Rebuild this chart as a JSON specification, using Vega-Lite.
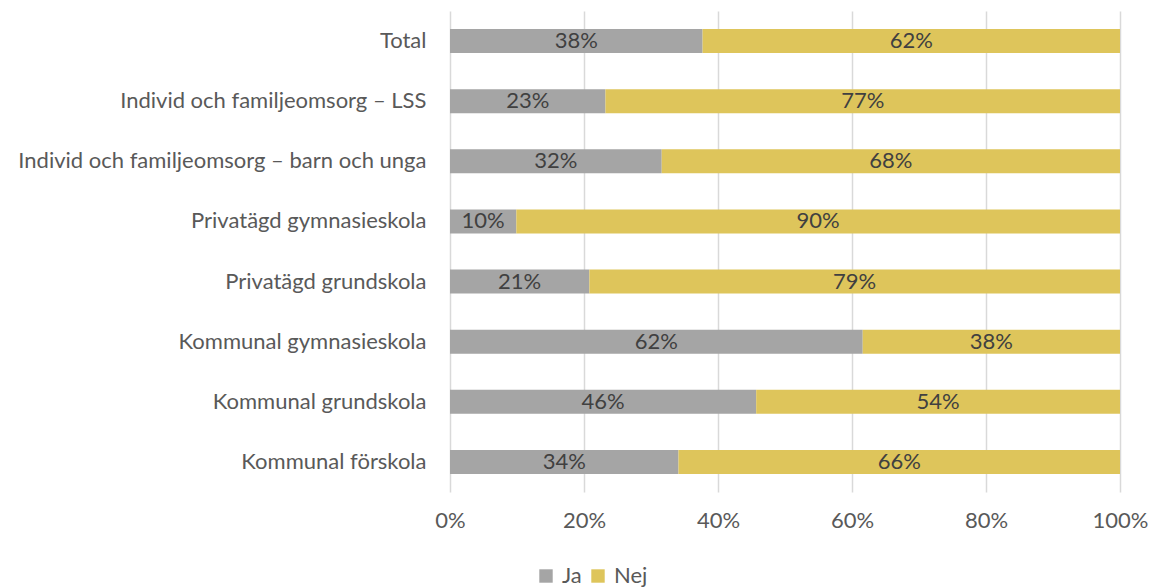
{
  "$schema": "https://vega.github.io/schema/vega-lite/v6.json",
  "width": 670,
  "height": 481,
  "autosize": "none",
  "padding": {"left": 450, "top": 11, "right": 31, "bottom": 96},
  "background": "white",
  "config": {"font": "Lato", "view": {"stroke": null}},
  "data": {
    "values": [
      {"kat": "Total", "svar": "Ja", "andel": 0.377, "ord": 0},
      {"kat": "Total", "svar": "Nej", "andel": 0.623, "ord": 1},
      {"kat": "Individ och familjeomsorg – LSS", "svar": "Ja", "andel": 0.232, "ord": 0},
      {"kat": "Individ och familjeomsorg – LSS", "svar": "Nej", "andel": 0.768, "ord": 1},
      {"kat": "Individ och familjeomsorg – barn och unga", "svar": "Ja", "andel": 0.316, "ord": 0},
      {"kat": "Individ och familjeomsorg – barn och unga", "svar": "Nej", "andel": 0.684, "ord": 1},
      {"kat": "Privatägd gymnasieskola", "svar": "Ja", "andel": 0.099, "ord": 0},
      {"kat": "Privatägd gymnasieskola", "svar": "Nej", "andel": 0.901, "ord": 1},
      {"kat": "Privatägd grundskola", "svar": "Ja", "andel": 0.208, "ord": 0},
      {"kat": "Privatägd grundskola", "svar": "Nej", "andel": 0.792, "ord": 1},
      {"kat": "Kommunal gymnasieskola", "svar": "Ja", "andel": 0.616, "ord": 0},
      {"kat": "Kommunal gymnasieskola", "svar": "Nej", "andel": 0.384, "ord": 1},
      {"kat": "Kommunal grundskola", "svar": "Ja", "andel": 0.457, "ord": 0},
      {"kat": "Kommunal grundskola", "svar": "Nej", "andel": 0.543, "ord": 1},
      {"kat": "Kommunal förskola", "svar": "Ja", "andel": 0.341, "ord": 0},
      {"kat": "Kommunal förskola", "svar": "Nej", "andel": 0.659, "ord": 1}
    ]
  },
  "transform": [
    {"stack": "andel", "groupby": ["kat"], "sort": [{"field": "ord"}], "as": ["v0", "v1"]},
    {"calculate": "(datum.v0 + datum.v1) / 2", "as": "mid"}
  ],
  "encoding": {
    "y": {
      "field": "kat",
      "type": "nominal",
      "sort": null,
      "scale": {"paddingInner": 0.6, "paddingOuter": 0.3},
      "axis": {
        "title": null,
        "domain": false,
        "ticks": false,
        "grid": false,
        "labelPadding": 24,
        "labelFontSize": 22,
        "labelColor": "#595959",
        "labelLimit": 500
      }
    }
  },
  "layer": [
    {
      "mark": {"type": "bar"},
      "encoding": {
        "x": {
          "field": "v0",
          "type": "quantitative",
          "scale": {"domain": [0, 1]},
          "axis": {
            "title": null,
            "format": ".0%",
            "values": [0, 0.2, 0.4, 0.6, 0.8, 1],
            "domain": false,
            "ticks": false,
            "grid": true,
            "gridColor": "#D9D9D9",
            "gridWidth": 1.5,
            "labelFlush": false,
            "labelPadding": 18,
            "labelFontSize": 22,
            "labelColor": "#595959"
          }
        },
        "x2": {"field": "v1"},
        "color": {
          "field": "svar",
          "type": "nominal",
          "sort": ["Ja", "Nej"],
          "scale": {"domain": ["Ja", "Nej"], "range": ["#A5A5A5", "#DEC55B"]},
          "legend": {
            "title": null,
            "orient": "none",
            "legendX": 85,
            "legendY": 554,
            "direction": "horizontal",
            "symbolType": "square",
            "symbolSize": 180,
            "symbolStrokeWidth": 0,
            "labelFontSize": 22,
            "labelColor": "#595959",
            "labelOffset": 5,
            "columnPadding": 5,
            "gridAlign": "none"
          }
        }
      }
    },
    {
      "mark": {"type": "text", "fontSize": 22, "color": "#404040", "align": "center", "baseline": "middle"},
      "encoding": {
        "x": {"field": "mid", "type": "quantitative"},
        "text": {"field": "andel", "type": "quantitative", "format": ".0%"}
      }
    }
  ]
}
